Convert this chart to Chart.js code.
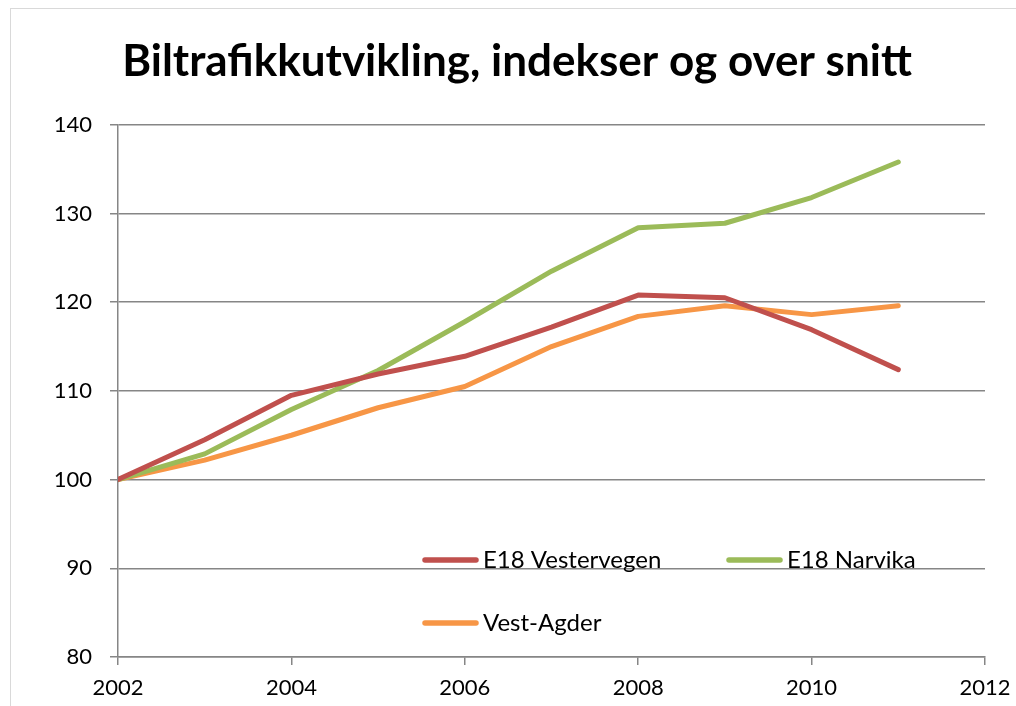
<!DOCTYPE html>
<html lang="no">
<head>
<meta charset="UTF-8">
<title>Biltrafikkutvikling</title>
<script src="https://cdn.jsdelivr.net/npm/chart.js"></script>
<style>
    html, body { margin: 0; padding: 0; background: #fff; }
    #ramme {
        position: absolute; left: 10px; top: 8px; width: 1100px; height: 800px;
        border-left: 1px solid #d9d9d9; border-top: 1px solid #d9d9d9;
    }
    #boks { position: absolute; left: 0; top: 0; width: 1016px; height: 706px; }
</style>
</head>
<body>
<div id="ramme"></div>
<div id="boks"><canvas id="grafico"></canvas></div>
<script>
    // årstall og indekser (2002 = 100)
    const aar = [2002, 2003, 2004, 2005, 2006, 2007, 2008, 2009, 2010, 2011];
    const vestervegen = [100, 104.5, 109.5, 111.9, 113.9, 117.2, 120.8, 120.5, 116.9, 112.4];
    const narvika = [100, 102.9, 107.9, 112.3, 117.8, 123.5, 128.4, 128.9, 131.8, 135.8];
    const vestAgder = [100, 102.2, 105.0, 108.1, 110.5, 115.0, 118.4, 119.6, 118.6, 119.6];

    const serier = ['E18 Vestervegen', 'E18 Narvika', 'Vest-Agder'];
    const farger = ['#C0504D', '#9BBB59', '#F79646'];
    const verdier = [vestervegen, narvika, vestAgder];

    const fontFamilie = 'Lato, "Open Sans", sans-serif';

    // legenden ligger inne i plottet, nederst
    const legendeInni = {
        id: 'legendeInni',
        afterDraw(chart) {
            const ctx = chart.ctx;
            const plass = [[425, 560], [729, 560], [425, 623]];
            ctx.save();
            chart.data.datasets.forEach((ds, i) => {
                const [x, y] = plass[i];
                ctx.strokeStyle = ds.borderColor;
                ctx.lineWidth = 5.5;
                ctx.lineCap = 'round';
                ctx.beginPath();
                ctx.moveTo(x, y);
                ctx.lineTo(x + 51, y);
                ctx.stroke();
                ctx.fillStyle = '#000';
                ctx.font = '24px ' + fontFamilie;
                ctx.textBaseline = 'alphabetic';
                ctx.fillText(ds.label, x + 58, y + 8);
            });
            ctx.restore();
        }
    };

    const canvas = document.getElementById('grafico').getContext('2d');

    const grafico = new Chart(canvas, {
        type: 'line',
        data: {
            datasets: serier.map((navn, i) => ({
                label: navn,
                data: aar.map((a, j) => ({ x: a, y: verdier[i][j] })),
                borderColor: farger[i],
                backgroundColor: farger[i],
                borderWidth: 5,
                pointRadius: 0,
                borderCapStyle: 'round',
                borderJoinStyle: 'round',
                tension: 0,
                fill: false
            }))
        },
        options: {
            responsive: true,
            maintainAspectRatio: false,
            animation: false,
            layout: { padding: { left: 49, right: 31, top: 0, bottom: 0 } },
            plugins: {
                legend: { display: false },
                tooltip: { enabled: false },
                title: {
                    display: true,
                    text: 'Biltrafikkutvikling, indekser og over snitt',
                    color: '#000',
                    font: { family: fontFamilie, size: 44, weight: 'bold' },
                    padding: { top: 35, bottom: 37 }
                }
            },
            scales: {
                x: {
                    type: 'linear',
                    min: 2002,
                    max: 2012,
                    ticks: {
                        stepSize: 2,
                        color: '#000',
                        padding: 10,
                        font: { family: fontFamilie, size: 22 },
                        callback: v => String(v)
                    },
                    grid: {
                        drawOnChartArea: false,
                        drawTicks: true,
                        tickLength: 8,
                        color: '#868686',
                        lineWidth: 1.5
                    },
                    border: { color: '#868686', width: 1.5 },
                    afterFit(scale) {
                        scale.height = 49;
                        scale.paddingLeft = 0;
                        scale.paddingRight = 0;
                    }
                },
                y: {
                    min: 80,
                    max: 140,
                    ticks: {
                        stepSize: 10,
                        color: '#000',
                        padding: 18,
                        font: { family: fontFamilie, size: 22 }
                    },
                    grid: {
                        color: '#868686',
                        lineWidth: 1.5,
                        tickLength: 8
                    },
                    border: { color: '#868686', width: 1.5 },
                    afterFit(scale) {
                        scale.width = 69;
                        scale.paddingTop = 0;
                        scale.paddingBottom = 0;
                    }
                }
            }
        },
        plugins: [legendeInni]
    });
</script>
</body>
</html>
